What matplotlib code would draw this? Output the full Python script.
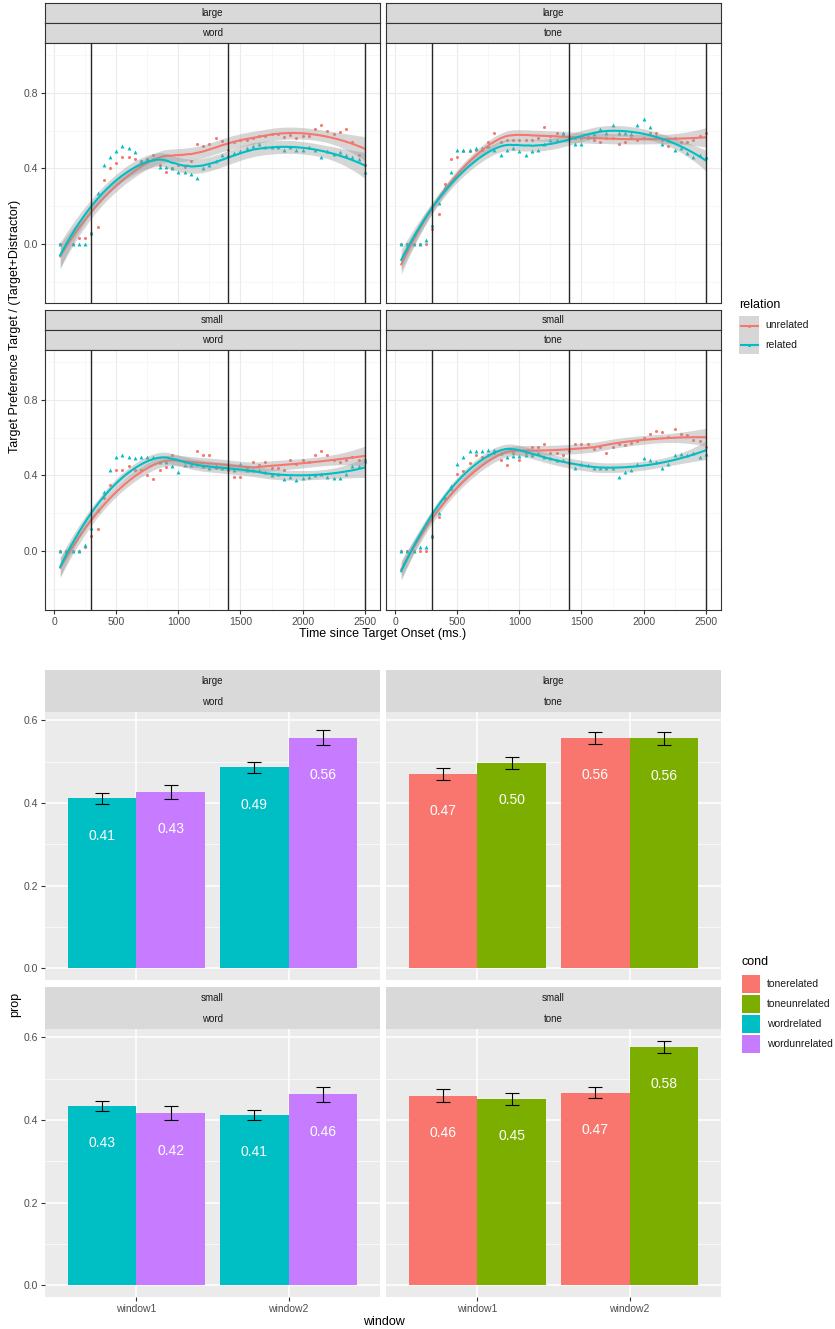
import numpy as np
import matplotlib
matplotlib.use('Agg')
import matplotlib.pyplot as plt
from matplotlib.patches import Rectangle

plt.rcParams['font.family'] = ['Liberation Sans', 'DejaVu Sans']

W, H = 835, 1329

# ---- time course data (bin means, every 50 ms) ----
time_ms = list(range(50, 2550, 50))

large_word_unrel = [0.0, 0.0, 0.0, 0.03, 0.03, 0.06, 0.09, 0.34, 0.40, 0.43,
                    0.46, 0.46, 0.45, 0.44, 0.45, 0.47, 0.42, 0.38, 0.40, 0.42,
                    0.41, 0.44, 0.53, 0.52, 0.53, 0.56, 0.545, 0.50, 0.54, 0.55,
                    0.55, 0.56, 0.57, 0.57, 0.58, 0.58, 0.565, 0.575, 0.56, 0.57,
                    0.57, 0.61, 0.63, 0.60, 0.58, 0.595, 0.61, 0.54, 0.47, 0.42]
large_word_rel = [0.0, 0.0, 0.0, 0.0, 0.0, 0.06, 0.27, 0.42, 0.46, 0.49,
                  0.52, 0.51, 0.485, 0.44, 0.45, 0.45, 0.41, 0.41, 0.40, 0.38,
                  0.38, 0.37, 0.35, 0.40, 0.42, 0.44, 0.47, 0.47, 0.48, 0.49,
                  0.51, 0.52, 0.53, 0.515, 0.515, 0.515, 0.50, 0.515, 0.50, 0.50,
                  0.515, 0.50, 0.46, 0.49, 0.475, 0.485, 0.47, 0.46, 0.45, 0.38]
large_tone_unrel = [0.0, 0.0, 0.0, 0.0, 0.0, 0.08, 0.16, 0.32, 0.45, 0.46,
                    0.49, 0.49, 0.50, 0.50, 0.54, 0.59, 0.54, 0.55, 0.55, 0.55,
                    0.55, 0.55, 0.56, 0.62, 0.57, 0.59, 0.58, 0.56, 0.56, 0.56,
                    0.56, 0.55, 0.54, 0.56, 0.56, 0.53, 0.54, 0.56, 0.55, 0.56,
                    0.59, 0.59, 0.55, 0.52, 0.56, 0.54, 0.54, 0.55, 0.57, 0.59]
large_tone_rel = [0.0, 0.0, 0.0, 0.0, 0.02, 0.10, 0.22, 0.30, 0.38, 0.50,
                  0.50, 0.50, 0.51, 0.51, 0.52, 0.50, 0.47, 0.50, 0.51, 0.49,
                  0.47, 0.49, 0.50, 0.53, 0.55, 0.55, 0.585, 0.57, 0.53, 0.53,
                  0.57, 0.58, 0.61, 0.59, 0.63, 0.59, 0.59, 0.58, 0.63, 0.66,
                  0.62, 0.57, 0.53, 0.55, 0.50, 0.51, 0.48, 0.46, 0.47, 0.46]
small_word_unrel = [0.0, 0.0, 0.0, 0.0, 0.02, 0.08, 0.115, 0.28, 0.35, 0.43,
                    0.43, 0.45, 0.43, 0.43, 0.40, 0.38, 0.43, 0.445, 0.51, 0.48,
                    0.47, 0.47, 0.53, 0.51, 0.51, 0.44, 0.44, 0.43, 0.39, 0.39,
                    0.44, 0.47, 0.455, 0.47, 0.44, 0.44, 0.43, 0.48, 0.46, 0.48,
                    0.47, 0.51, 0.53, 0.51, 0.48, 0.47, 0.48, 0.50, 0.48, 0.48]
small_word_rel = [0.0, 0.0, 0.0, 0.0, 0.03, 0.12, 0.22, 0.31, 0.43, 0.50,
                  0.51, 0.50, 0.49, 0.495, 0.50, 0.495, 0.47, 0.47, 0.45, 0.42,
                  0.455, 0.455, 0.46, 0.45, 0.44, 0.45, 0.44, 0.44, 0.43, 0.46,
                  0.43, 0.43, 0.43, 0.42, 0.40, 0.41, 0.38, 0.39, 0.375, 0.385,
                  0.39, 0.40, 0.41, 0.39, 0.385, 0.385, 0.41, 0.45, 0.45, 0.475]
small_tone_unrel = [0.0, 0.0, 0.0, 0.0, 0.0, 0.08, 0.18, 0.28, 0.33, 0.41,
                    0.425, 0.465, 0.51, 0.50, 0.51, 0.52, 0.48, 0.455, 0.52, 0.48,
                    0.52, 0.55, 0.55, 0.565, 0.52, 0.52, 0.51, 0.53, 0.565, 0.565,
                    0.565, 0.54, 0.55, 0.52, 0.55, 0.565, 0.56, 0.57, 0.58, 0.60,
                    0.62, 0.635, 0.63, 0.605, 0.645, 0.62, 0.615, 0.59, 0.58, 0.55]
small_tone_rel = [0.0, 0.0, 0.0, 0.02, 0.02, 0.08, 0.20, 0.28, 0.345, 0.46,
                  0.50, 0.53, 0.53, 0.53, 0.535, 0.535, 0.52, 0.50, 0.505, 0.505,
                  0.51, 0.51, 0.52, 0.50, 0.49, 0.48, 0.48, 0.47, 0.44, 0.46,
                  0.455, 0.44, 0.44, 0.44, 0.44, 0.39, 0.42, 0.43, 0.46, 0.49,
                  0.48, 0.47, 0.44, 0.46, 0.51, 0.515, 0.51, 0.52, 0.50, 0.515]
window_edges = [300, 1400, 2500]

# ---- window means ----
windows = ['window1', 'window2']
large_word_related = [0.411, 0.486]
large_word_related_se = [0.013, 0.014]
large_word_unrelated = [0.426, 0.558]
large_word_unrelated_se = [0.017, 0.018]
large_tone_related = [0.470, 0.557]
large_tone_related_se = [0.015, 0.015]
large_tone_unrelated = [0.497, 0.556]
large_tone_unrelated_se = [0.015, 0.015]
small_word_related = [0.434, 0.412]
small_word_related_se = [0.013, 0.013]
small_word_unrelated = [0.416, 0.462]
small_word_unrelated_se = [0.017, 0.018]
small_tone_related = [0.459, 0.466]
small_tone_related_se = [0.015, 0.014]
small_tone_unrelated = [0.451, 0.576]
small_tone_unrelated_se = [0.014, 0.015]

conds = ['tonerelated', 'toneunrelated', 'wordrelated', 'wordunrelated']
cond_colors = {'tonerelated': '#F8766D', 'toneunrelated': '#7CAE00',
               'wordrelated': '#00BFC4', 'wordunrelated': '#C77CFF'}
RED, TEAL = '#F8766D', '#00BFC4'


def loess(x, y, xs, span=0.75):
    x = np.asarray(x, float) / 1000
    y = np.asarray(y, float)
    xs = np.asarray(xs, float) / 1000
    n = len(x)
    k = int(np.floor(span * n))

    def rows(pts):
        L = np.zeros((len(pts), n))
        for i, x0 in enumerate(pts):
            d = np.abs(x - x0)
            h = np.sort(d)[k - 1] * 1.0001
            w = np.clip(1 - (d / h) ** 3, 0, None) ** 3
            X = np.column_stack([np.ones(n), x - x0, (x - x0) ** 2])
            XtW = X.T * w
            L[i] = np.linalg.solve(XtW @ X, XtW)[0]
        return L

    Ld = rows(x)
    resid = y - Ld @ y
    sigma = np.sqrt(resid @ resid / (n - np.trace(Ld)))
    Ls = rows(xs)
    return Ls @ y, sigma * np.sqrt((Ls ** 2).sum(axis=1))


fig = plt.figure(figsize=(W / 100, H / 100), dpi=100)


def px_axes(l, t, r, b, **kw):
    return fig.add_axes([l / W, 1 - b / H, (r - l) / W, (b - t) / H], **kw)


cols = [(45, 380), (386, 721)]

# ---------------- top figure: time course ----------------
line_panels = [('large', 'word', large_word_unrel, large_word_rel),
               ('large', 'tone', large_tone_unrel, large_tone_rel),
               ('small', 'word', small_word_unrel, small_word_rel),
               ('small', 'tone', small_tone_unrel, small_tone_rel)]
line_rows = [(3, 43, 303), (310, 350, 610)]
grid_x = np.linspace(50, 2500, 80)

for i, (size, kind, unrel, rel) in enumerate(line_panels):
    r, c = divmod(i, 2)
    l, rr = cols[c]
    st, pt, pb = line_rows[r]
    for j, lab in enumerate([size, kind]):
        s = px_axes(l, st + 20 * j, rr, st + 20 * (j + 1))
        s.set_facecolor('#D9D9D9')
        s.set_xticks([]); s.set_yticks([])
        for sp in s.spines.values():
            sp.set_color('#333333'); sp.set_linewidth(0.8)
        s.text(0.5, 0.5, lab, ha='center', va='center', fontsize=7,
               color='#1A1A1A', transform=s.transAxes)

    ax = px_axes(l, pt, rr, pb)
    ax.set_xlim(-72.5, 2622.5)
    ax.set_ylim(-0.311, 1.063)
    ax.set_xticks([0, 500, 1000, 1500, 2000, 2500])
    ax.set_xticks([250, 750, 1250, 1750, 2250], minor=True)
    ax.set_yticks([0.0, 0.4, 0.8])
    ax.set_yticklabels(['0.0', '0.4', '0.8'])
    ax.set_yticks([-0.2, 0.2, 0.6, 1.0], minor=True)
    ax.grid(which='major', color='#EBEBEB', lw=0.8)
    ax.grid(which='minor', color='#F4F4F4', lw=0.5)
    ax.set_axisbelow(True)
    for sp in ax.spines.values():
        sp.set_color('#333333'); sp.set_linewidth(0.8)
    ax.tick_params(which='major', length=3, color='#333333', labelsize=7.5,
                   labelcolor='#4D4D4D', pad=2)
    ax.tick_params(which='minor', length=0)
    if c == 1:
        ax.tick_params(axis='y', labelleft=False, length=0)
    if r == 0:
        ax.tick_params(axis='x', labelbottom=False, length=0)

    for v in window_edges:
        ax.axvline(v, color='#262626', lw=1.0, zorder=6)
    ax.plot(time_ms, unrel, 'o', color=RED, ms=2.2, mew=0, zorder=2.5)
    ax.plot(time_ms, rel, '^', color=TEAL, ms=2.8, mew=0, zorder=2.5)
    z = 3
    for vals, colr in [(unrel, RED), (rel, TEAL)]:
        fit, se = loess(time_ms, vals, grid_x)
        ax.fill_between(grid_x, fit - 2.02 * se, fit + 2.02 * se,
                        color='0.6', alpha=0.4, lw=0, zorder=z)
        ax.plot(grid_x, fit, color=colr, lw=1.5, zorder=z + 0.1)
        z += 0.2

# ---------------- bottom figure: window means ----------------
bar_panels = [
    ('large', 'word', [('wordrelated', large_word_related, large_word_related_se),
                       ('wordunrelated', large_word_unrelated, large_word_unrelated_se)]),
    ('large', 'tone', [('tonerelated', large_tone_related, large_tone_related_se),
                       ('toneunrelated', large_tone_unrelated, large_tone_unrelated_se)]),
    ('small', 'word', [('wordrelated', small_word_related, small_word_related_se),
                       ('wordunrelated', small_word_unrelated, small_word_unrelated_se)]),
    ('small', 'tone', [('tonerelated', small_tone_related, small_tone_related_se),
                       ('toneunrelated', small_tone_unrelated, small_tone_unrelated_se)]),
]
bar_rows = [(670, 712, 980), (987, 1029, 1297)]

for i, (size, kind, series) in enumerate(bar_panels):
    r, c = divmod(i, 2)
    l, rr = cols[c]
    st, pt, pb = bar_rows[r]
    s = px_axes(l, st, rr, pt)
    s.set_facecolor('#D9D9D9')
    s.set_xticks([]); s.set_yticks([])
    for sp in s.spines.values():
        sp.set_visible(False)
    s.text(0.5, 0.73, size, ha='center', va='center', fontsize=7,
           color='#1A1A1A', transform=s.transAxes)
    s.text(0.5, 0.24, kind, ha='center', va='center', fontsize=7,
           color='#1A1A1A', transform=s.transAxes)

    ax = px_axes(l, pt, rr, pb)
    ax.set_facecolor('#EBEBEB')
    for sp in ax.spines.values():
        sp.set_visible(False)
    ax.set_xlim(0.4, 2.6)
    ax.set_ylim(-0.028, 0.62)
    ax.set_xticks([1, 2])
    ax.set_xticklabels(windows)
    ax.set_yticks([0.0, 0.2, 0.4, 0.6])
    ax.set_yticklabels(['0.0', '0.2', '0.4', '0.6'])
    ax.set_yticks([0.1, 0.3, 0.5], minor=True)
    ax.grid(which='major', color='white', lw=1.1)
    ax.grid(which='minor', axis='y', color='white', lw=0.5)
    ax.set_axisbelow(True)
    ax.tick_params(which='major', length=3, color='#333333', labelsize=7.5,
                   labelcolor='#4D4D4D', pad=2)
    ax.tick_params(which='minor', length=0)
    if c == 1:
        ax.tick_params(axis='y', labelleft=False, length=0)
    if r == 0:
        ax.tick_params(axis='x', labelbottom=False, length=0)

    for j, (cond, vals, errs) in enumerate(series):
        xs = np.arange(1, len(windows) + 1) + (j - 0.5) * 0.45
        ax.bar(xs, vals, width=0.45, color=cond_colors[cond], zorder=2)
        ax.errorbar(xs, vals, yerr=errs, fmt='none', ecolor='black',
                    elinewidth=0.8, capsize=5, capthick=0.8, zorder=3)
        for x, v in zip(xs, vals):
            ax.text(x, v - 0.09, f'{v:.2f}', color='white', ha='center',
                    va='center', fontsize=10, zorder=4)

# ---------------- titles and legends ----------------
ov = fig.add_axes([0, 0, 1, 1], zorder=10)
ov.set_xlim(0, W)
ov.set_ylim(H, 0)
ov.axis('off')
ov.patch.set_alpha(0)

ov.text(383, 634, 'Time since Target Onset (ms.)', ha='center', va='center',
        fontsize=9)
ov.text(15, 326, 'Target Preference Target / (Target+Distractor)', ha='center',
        va='center', rotation=90, fontsize=9)
ov.text(384, 1322, 'window', ha='center', va='center', fontsize=9)
ov.text(15, 1004, 'prop', ha='center', va='center', rotation=90, fontsize=9)

# relation legend
ov.text(739, 305, 'relation', ha='left', va='center', fontsize=9)
for k, (lab, colr, mk) in enumerate([('unrelated', RED, 'o'), ('related', TEAL, '^')]):
    y0 = 316 + 19 * k
    ov.add_patch(Rectangle((739, y0), 20, 19, fc='0.6', alpha=0.4, lw=0))
    ov.plot([740.5, 757.5], [y0 + 9.5, y0 + 9.5], color=colr, lw=1.5)
    ov.plot([749], [y0 + 9.5], mk, color=colr, ms=2.2, mew=0)
    ov.text(765, y0 + 9.5, lab, ha='left', va='center', fontsize=7.5,
            color='#1A1A1A')

# cond legend
ov.text(741, 962, 'cond', ha='left', va='center', fontsize=9)
for k, cond in enumerate(conds):
    y0 = 975 + 20 * k
    ov.add_patch(Rectangle((742, y0), 18, 18, fc=cond_colors[cond], lw=0))
    ov.text(767, y0 + 9, cond, ha='left', va='center', fontsize=7.5,
            color='#1A1A1A')

fig.savefig('out.png', dpi=100)
